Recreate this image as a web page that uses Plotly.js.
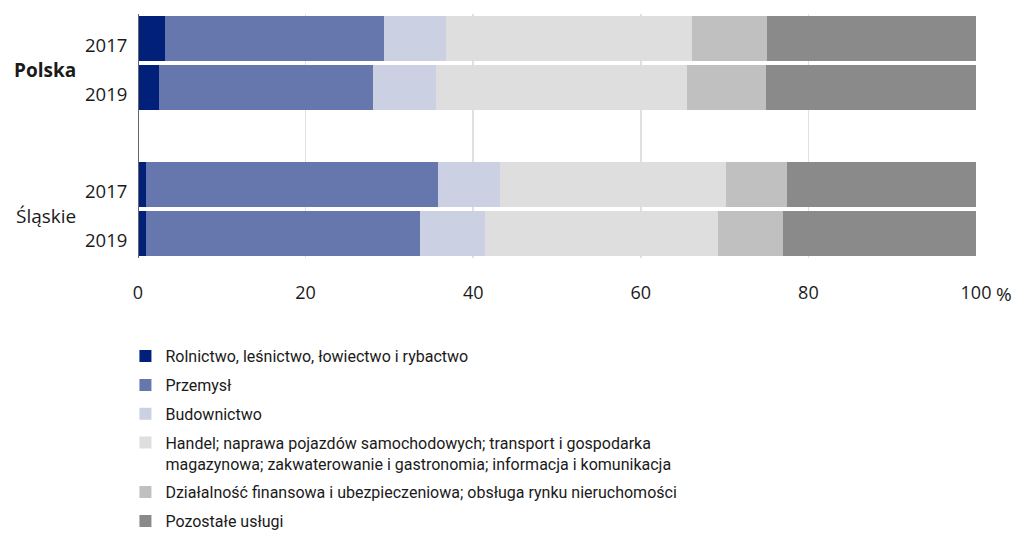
<!DOCTYPE html>
<html>
<head>
<meta charset="utf-8">
<script src="https://cdn.plot.ly/plotly-3.0.1.min.js"></script>
<style>html,body{margin:0;padding:0;background:#fff;}#chart{width:1021px;height:535px;}</style>
</head>
<body>
<div id="chart"></div>
<script>
// Data
const yearLabels = ["2017", "2019", "2017", "2019"];
const barPositions = [0, 1, 3, 4];
const groupLabels = ["Polska", "Śląskie"];
const groupCenters = [0.5, 3.5];
const seriesNames = [
  "Rolnictwo, leśnictwo, łowiectwo i rybactwo",
  "Przemysł",
  "Budownictwo",
  "Handel; naprawa pojazdów samochodowych; transport i gospodarka<br>magazynowa; zakwaterowanie i gastronomia; informacja i komunikacja",
  "Działalność finansowa i ubezpieczeniowa; obsługa rynku nieruchomości",
  "Pozostałe usługi"
];
const rolnictwo = [3.2, 2.5, 0.9, 0.9];
const przemysl = [26.2, 25.5, 34.9, 32.8];
const budownictwo = [7.3, 7.6, 7.4, 7.7];
const handel = [29.4, 29.9, 27.0, 27.8];
const finanse = [8.9, 9.4, 7.3, 7.8];
const pozostale = [25.0, 25.1, 22.5, 23.0];
const xTickVals = [0, 20, 40, 60, 80, 100];
const xTickText = ["0", "20", "40", "60", "80", "100"];
const unitLabel = "%";

const seriesValues = [rolnictwo, przemysl, budownictwo, handel, finanse, pozostale];
const colors = ["#00207a", "#6677ad", "#cbd0e3", "#dedede", "#c0c0c0", "#8a8a8a"];

const traces = seriesValues.map((vals, i) => ({
  type: "bar",
  orientation: "h",
  name: seriesNames[i],
  x: vals,
  y: barPositions,
  width: 0.92,
  marker: {color: colors[i], line: {width: 0}},
  legendgroup: "g" + i,
  hoverinfo: "skip"
}));

const labelFont = "Open Sans, sans-serif";
const legendFont = "Roboto, sans-serif";
const annotations = [];
yearLabels.forEach((t, i) => {
  annotations.push({
    xref: "paper", yref: "y", x: 0, y: barPositions[i],
    text: t, showarrow: false, xanchor: "right", yanchor: "middle",
    xshift: -9, yshift: -6,
    font: {family: labelFont, size: 18.5, color: "#1a1a1a"}
  });
});
groupLabels.forEach((t, i) => {
  annotations.push({
    xref: "paper", yref: "y", x: 0, y: groupCenters[i],
    text: i === 0 ? "<b>" + t + "</b>" : t, showarrow: false, xanchor: "right", yanchor: "middle",
    xshift: -60, yshift: -7,
    font: {family: labelFont, size: 19, color: "#1a1a1a"}
  });
});
annotations.push({
  xref: "x", yref: "paper", x: 100, y: 0, text: unitLabel, showarrow: false,
  xanchor: "left", yanchor: "top", xshift: 18, yshift: -21,
  font: {family: "Open Sans, sans-serif", size: 19, color: "#1a1a1a"}
});

const layout = {
  width: 1021, height: 535,
  margin: {l: 138, r: 45, t: 14, b: 277},
  paper_bgcolor: "#fff", plot_bgcolor: "#fff",
  barmode: "stack",
  bargap: 0,
  showlegend: true,
  xaxis: {
    range: [0, 100],
    tickvals: xTickVals, ticktext: xTickText,
    showgrid: true, gridcolor: "#e0e0e0", gridwidth: 1.5,
    zeroline: false, showline: false, ticks: "",
    ticklabelstandoff: 22,
    tickfont: {family: "Open Sans, sans-serif", size: 18, color: "#1a1a1a"},
    fixedrange: true
  },
  yaxis: {
    range: [4.5, -0.5],
    showticklabels: false, showgrid: false, zeroline: false,
    showline: false, ticks: "", fixedrange: true
  },
  shapes: [{
    type: "line", xref: "x", yref: "paper", x0: 0, x1: 0, y0: 0, y1: 1,
    line: {color: "#666666", width: 2}
  }],
  annotations: annotations,
  legend: {
    orientation: "v",
    xref: "paper", yref: "container",
    x: -0.015, y: 0.366, xanchor: "left", yanchor: "top",
    font: {family: legendFont, size: 16, color: "#1a1a1a"},
    tracegroupgap: 5,
    valign: "top",
    traceorder: "grouped",
    bgcolor: "rgba(0,0,0,0)"
  }
};

Plotly.newPlot("chart", traces, layout, {displayModeBar: false, staticPlot: true});
</script>
</body>
</html>
